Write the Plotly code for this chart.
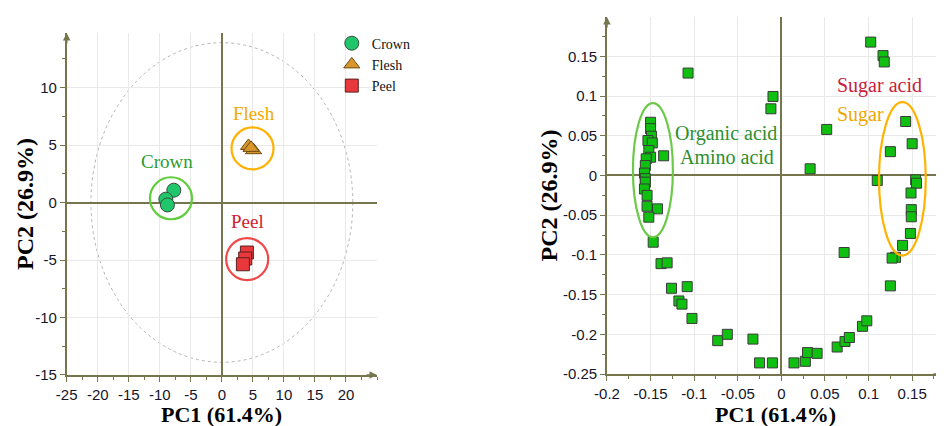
import plotly.graph_objects as go

# ---------------- data: scores plot (left) ----------------
crown_x = [-7.74, -9.03, -8.77]
crown_y = [1.07, 0.29, -0.21]
flesh_x = [4.29, 5.10, 4.70]
flesh_y = [4.92, 4.55, 4.75]
peel_x = [4.03, 3.76, 3.39]
peel_y = [-4.35, -4.87, -5.37]

group_names = ["Crown", "Flesh", "Peel"]
group_center_x = [-8.2, 4.94, 4.08]
group_center_y = [0.37, 4.70, -4.93]
group_label_x = [-8.77, 5.1, 4.13]
group_label_y = [3.57, 7.74, -1.69]

ellipse_rx = 21.1   # Hotelling T2 ellipse semi-axes
ellipse_ry = 13.9

left_xticks = [-25, -20, -15, -10, -5, 0, 5, 10, 15, 20]
left_yticks = [-15, -10, -5, 0, 5, 10]

# ---------------- data: loadings plot (right) ----------------
load_x = [-0.150, -0.150, -0.149, -0.153, -0.148, -0.152, -0.135, -0.150, -0.155, -0.156,
          -0.157, -0.156, -0.156, -0.157, -0.154, -0.154, -0.142, -0.152, -0.147,
          -0.138, -0.131, -0.126, -0.108, -0.1175, -0.114, -0.1025, -0.073, -0.062,
          -0.0326, -0.025, -0.0103, -0.107, -0.0096, -0.012,
          0.0145, 0.0275, 0.030, 0.041, 0.064, 0.073, 0.078, 0.093, 0.098, 0.072,
          0.033, 0.052, 0.1025, 0.1166, 0.118,
          0.1426, 0.150, 0.125, 0.110, 0.154, 0.155, 0.1487, 0.149, 0.149, 0.148,
          0.139, 0.131, 0.127, 0.125]
load_y = [0.067, 0.059, 0.0495, 0.044, 0.041, 0.0315, 0.0248, 0.023, 0.021, 0.0126,
          0.003, -0.004, -0.0084, -0.017, -0.025, -0.0387, -0.042, -0.0525, -0.084,
          -0.111, -0.110, -0.142, -0.140, -0.158, -0.162, -0.180, -0.208, -0.200,
          -0.206, -0.236, -0.236, 0.129, 0.0995, 0.084,
          -0.236, -0.234, -0.223, -0.224, -0.216, -0.209, -0.204, -0.190, -0.183, -0.097,
          0.0084, 0.058, 0.168, 0.151, 0.143,
          0.068, 0.040, 0.030, -0.0063, -0.0055, -0.0097, -0.022, -0.043, -0.052, -0.073,
          -0.088, -0.103, -0.104, -0.139]

region_cx = [-0.1473, 0.1388]
region_cy = [0.0067, -0.0042]
region_rx = [0.0229, 0.0268]
region_ry = [0.0844, 0.0966]
region_colors = ["#6cc94a", "#ffb300"]

right_xticks = [-0.2, -0.15, -0.1, -0.05, 0, 0.05, 0.1, 0.15]
right_yticks = [-0.25, -0.2, -0.15, -0.1, -0.05, 0, 0.05, 0.1, 0.15]

# ---------------- styles ----------------
AX = "#76764e"
GRID = "#e9e9e9"
TICKFONT = dict(family="Liberation Sans, Arial", size=15, color="#15152a")
TITLEFONT = dict(family="Liberation Serif, Times New Roman", size=24, color="#000000")
SERIF = "Liberation Serif, Times New Roman"

fig = go.Figure()

# left: group rings
ring_colors = ["#5fcd3c", "#ffb000", "#f04848"]
fig.add_trace(go.Scatter(x=group_center_x, y=group_center_y, mode="markers",
                         marker=dict(symbol="circle-open", size=42,
                                     color=ring_colors, line=dict(width=2.2)),
                         showlegend=False, hoverinfo="skip", xaxis="x", yaxis="y"))

fig.add_trace(go.Scatter(x=crown_x, y=crown_y, mode="markers", name="Crown",
                         marker=dict(symbol="circle", size=14, color="#1fc76a",
                                     line=dict(color="#3c4c40", width=1)),
                         xaxis="x", yaxis="y"))
fig.add_trace(go.Scatter(x=flesh_x, y=flesh_y, mode="markers", name="Flesh",
                         marker=dict(symbol="triangle-up", size=14, color="#d8962c",
                                     line=dict(color="#6e4a12", width=1)),
                         xaxis="x", yaxis="y"))
fig.add_trace(go.Scatter(x=peel_x, y=peel_y, mode="markers", name="Peel",
                         marker=dict(symbol="square", size=13, color="#e8383c",
                                     line=dict(color="#5a2020", width=1)),
                         xaxis="x", yaxis="y"))

# right: loadings
fig.add_trace(go.Scatter(x=load_x, y=load_y, mode="markers",
                         marker=dict(symbol="square", size=10, color="#10c010",
                                     line=dict(color="#3a3a3a", width=1)),
                         showlegend=False, xaxis="x2", yaxis="y2"))

shapes = [dict(type="circle", xref="x", yref="y",
               x0=-ellipse_rx, x1=ellipse_rx, y0=-ellipse_ry, y1=ellipse_ry,
               line=dict(color="#b4b4b4", width=1, dash="dot"), layer="below")]
for cx, cy, rx, ry, c in zip(region_cx, region_cy, region_rx, region_ry, region_colors):
    shapes.append(dict(type="circle", xref="x2", yref="y2",
                       x0=cx - rx, x1=cx + rx, y0=cy - ry, y1=cy + ry,
                       line=dict(color=c, width=2.2)))

group_text_colors = ["#2e9b2e", "#f0a800", "#d42030"]
annotations = []
for n, x, y, c in zip(group_names, group_label_x, group_label_y, group_text_colors):
    annotations.append(dict(x=x, y=y, xref="x", yref="y", text=n, showarrow=False,
                            font=dict(family=SERIF, size=19, color=c)))

right_texts = [("Organic acid", -0.0639, 0.0529, "#2e8f2e", "center"),
               ("Amino acid", -0.0622, 0.0231, "#2e8f2e", "center"),
               ("Sugar acid", 0.0611, 0.1134, "#c8203c", "left"),
               ("Sugar", 0.0611, 0.0769, "#f0a800", "left")]
for t, x, y, c, a in right_texts:
    annotations.append(dict(x=x, y=y, xref="x2", yref="y2", text=t, showarrow=False,
                            xanchor=a, font=dict(family=SERIF, size=20, color=c)))

# axis titles placed as text beside the axes
for xp, yr in [(0.018, "y"), (0.573, "y2")]:
    annotations.append(dict(x=xp, y=0.5, xref="paper", yref=f"{yr} domain",
                            text="<b>PC2 (26.9%)</b>", textangle=-90, showarrow=False,
                            xanchor="center", yanchor="middle", font=TITLEFONT))
for xr in ["x", "x2"]:
    annotations.append(dict(x=0.5, y=0.0775, xref=f"{xr} domain", yref="paper",
                            text="<b>PC1 (61.4%)</b>", showarrow=False,
                            xanchor="center", yanchor="top", borderpad=0,
                            font=dict(family=TITLEFONT["family"], size=22, color="#000")))

# axis arrows
for xr, yr in [("x", "y"), ("x2", "y2")]:
    annotations.append(dict(x=0, y=1, xref=f"{xr} domain", yref=f"{yr} domain",
                            ax=0, ay=12, axref="pixel", ayref="pixel", showarrow=True,
                            arrowhead=2, arrowsize=1, arrowwidth=1.5, arrowcolor=AX, text=""))
    annotations.append(dict(x=1, y=0, xref=f"{xr} domain", yref=f"{yr} domain",
                            ax=-12, ay=0, axref="pixel", ayref="pixel", showarrow=True,
                            arrowhead=2, arrowsize=1, arrowwidth=1.5, arrowcolor=AX, text=""))


def axis_style(tickvals, rng, domain, anchor, minor_dtick):
    return dict(range=rng, domain=domain, anchor=anchor, tickvals=tickvals,
                ticktext=[f"{v:g}" for v in tickvals],
                showline=True, linecolor=AX, linewidth=1.5, mirror=False,
                zeroline=True, zerolinecolor=AX, zerolinewidth=1.5,
                showgrid=True, gridcolor=GRID, gridwidth=1,
                ticks="outside", ticklen=5, tickcolor=AX, tickwidth=1,
                minor=dict(dtick=minor_dtick, ticks="outside", ticklen=3, tickcolor=AX,
                           showgrid=False),
                tickfont=TICKFONT, automargin=False)


# the page body has an 8px margin, so domains are offset to compensate
fig.update_layout(
    width=944, height=426, paper_bgcolor="white", plot_bgcolor="white",
    margin=dict(l=0, r=0, t=0, b=0),
    xaxis=axis_style(left_xticks, [-25, 25], [0.0622, 0.3909], "y", 2.5),
    yaxis=axis_style(left_yticks, [-15, 14.74], [0.1385, 0.9413], "x", 2.5),
    xaxis2=axis_style(right_xticks, [-0.2, 0.1865], [0.6345, 0.9915], "y2", 0.025),
    yaxis2=axis_style(right_yticks, [-0.25, 0.1996], [0.1408, 0.9789], "x2", 0.025),
    shapes=shapes, annotations=annotations,
    showlegend=True,
    legend=dict(x=0.343, y=0.954, xanchor="left", yanchor="top", bgcolor="rgba(0,0,0,0)",
                font=dict(family=SERIF, size=14, color="#111"), itemwidth=30,
                tracegroupgap=0),
)

fig.write_html("out.html")
